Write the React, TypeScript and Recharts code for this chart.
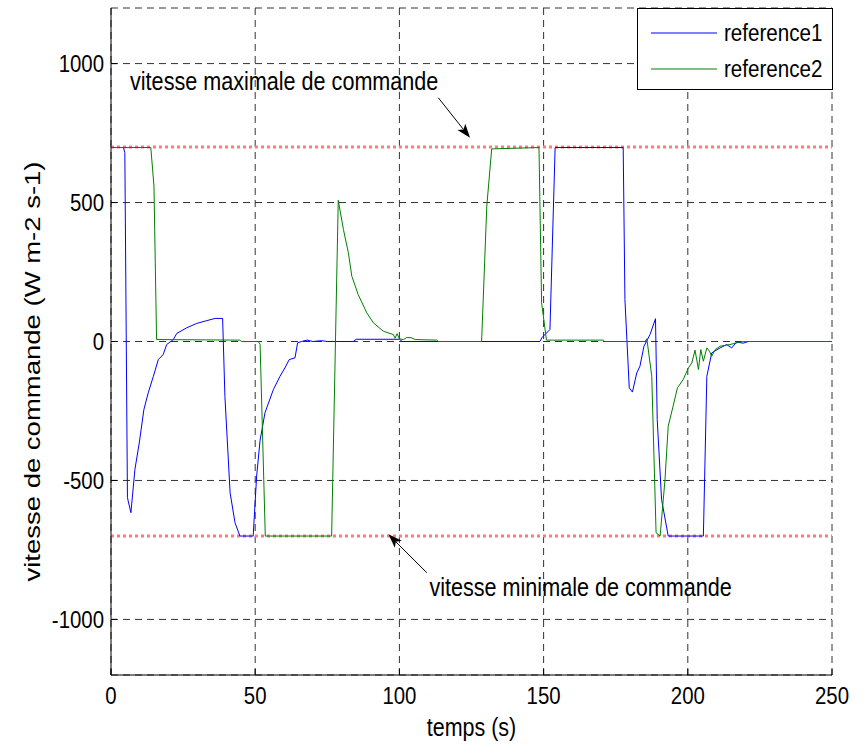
import React from 'react';
import {
  LineChart, Line, XAxis, YAxis, CartesianGrid, ReferenceLine, ReferenceDot, Legend, Label,
} from 'recharts';

// ---- data ----
const seriesNames = ['reference1', 'reference2'];
const seriesColors = ['#0000ff', '#008000'];

const t1 = [0, 4.3, 4.8, 5.7, 6.9, 8.3, 9.8, 11.4, 12.9, 14.7, 16.4, 18.1, 19.3, 21.6, 22.8, 26.2, 29.7, 33.2, 36.1, 38.7,
  39.5, 41.3, 43.0, 44.7, 49.3, 50.5, 51.7, 53.4, 56.3, 58.6, 60.3, 61.8, 63.8, 64.7, 66, 68, 70, 73, 75, 84, 85, 100, 101,
  148.7, 149.5, 152.2, 154, 177.6, 178.2, 179.7, 180.8, 182.3, 183.4, 184.8, 186.9, 188.8, 189.4, 190.9, 193.2, 205.4,
  206.6, 208.3, 211.2, 213.5, 215.2, 216.9, 219.2, 221, 250];
const v1 = [698, 698, 680, -562, -616, -460, -365, -245, -185, -125, -65, -47, -11, 7, 29, 49, 65, 75, 83, 83,
  -197, -544, -652, -700, -700, -484, -355, -256, -173, -125, -95, -65, -59, -5, 0, 5, 0, 3, 0, 0, 8, 8, 0,
  0, 15, 43, 698, 698, 151, -167, -182, -113, -89, -17, 25, 82, -281, -568, -700, -700,
  -125, -41, -23, -11, -23, -2, -6, 0, 0];

const t2 = [0, 13.8, 14.9, 15.8, 44.7, 45.2, 51.1, 51.7, 53.5, 76.5, 78.8, 80.6, 82.3, 83.5, 85.7, 88.7, 91, 94.4, 97.9,
  98.5, 99.2, 100, 101.4, 102.5, 104, 105.5, 112.9, 113.5, 128.5, 130.3, 132, 148.4, 149.3, 151, 170.7, 171.2, 185.2,
  185.8, 187.5, 189, 190.4, 192.1, 193.2, 194.9, 196.4, 198.4, 200.2, 201.4, 202.5, 203.7, 204.5, 205.4, 206.6, 207.5,
  208.3, 209.5, 211.2, 214.6, 218.1, 220, 250];
const v2 = [698, 698, 559, 7, 5, 0, 0, -10, -700, -700, 508, 403, 319, 235, 169, 103, 67, 37, 25,
  12, 28, 10, 7, 14, 14, 7, 5, 0, 0, 487, 693, 698, 139, 5, 5, 0, 0,
  10, -125, -688, -700, -496, -305, -233, -167, -137, -95, -77, -31, -101, -29, -71, -23, -35,
  -53, -29, -17, -11, -2, 0, 0];

const xTicks = [0, 50, 100, 150, 200, 250];
const yTicks = [-1000, -500, 0, 500, 1000];
const limits = [700, -700];
const xLabel = 'temps (s)';
const yLabel = 'vitesse de commande (W m-2 s-1)';
const annotations = [
  { text: 'vitesse maximale de commande', tx: 6.6, ty: 906, ax1: 113.5, ay1: 877, ax2: 124.5, ay2: 733 },
  { text: 'vitesse minimale de commande', tx: 110.4, ty: -914, ax1: 109.5, ay1: -832, ax2: 96.2, ay2: -694 },
];

const data1 = t1.map((t, i) => ({ t, v: v1[i] }));
const data2 = t2.map((t, i) => ({ t, v: v2[i] }));
const seriesData = [data1, data2];

const FONT = '"Liberation Sans", Arial, sans-serif';
const SY = 1.2; // vertical stretch of the glyphs in the reference

const XTick = (p: any) => {
  const { x, y, payload } = p;
  return (
    <text transform={`translate(${x},${y}) scale(1,${SY})`} textAnchor="middle" dy="0.72em"
      fontFamily={FONT} fontSize={20.4} fill="#000">{payload.value}</text>
  );
};
const YTick = (p: any) => {
  const { x, y, payload } = p;
  return (
    <text transform={`translate(${x},${y}) scale(1,${SY})`} textAnchor="end" dy="0.36em"
      fontFamily={FONT} fontSize={20.4} fill="#000">{payload.value}</text>
  );
};

const Arrow = (p: any) => {
  const { x1, y1, x2, y2 } = p;
  const dx = x2 - x1, dy = y2 - y1;
  const len = Math.sqrt(dx * dx + dy * dy) || 1;
  const ux = dx / len, uy = dy / len;
  const hl = 14, hw = 5;
  const bx = x2 - ux * hl, by = y2 - uy * hl;
  const nx = -uy, ny = ux;
  const notchX = x2 - ux * hl * 0.75, notchY = y2 - uy * hl * 0.75;
  return (
    <g>
      <line x1={x1} y1={y1} x2={notchX} y2={notchY} stroke="#000" strokeWidth={1} />
      <polygon
        points={`${x2},${y2} ${bx + nx * hw},${by + ny * hw} ${notchX},${notchY} ${bx - nx * hw},${by - ny * hw}`}
        fill="#000"
      />
    </g>
  );
};

const LegendBox = () => (
  <div style={{ width: 196, height: 82, boxSizing: 'border-box', border: '1px solid #000', background: '#fff', position: 'relative' }}>
    {seriesNames.map((name, i) => (
      <div key={name} style={{ position: 'absolute', left: 0, top: i === 0 ? 6 : 42, height: 36, width: 194 }}>
        <svg width={80} height={36} style={{ position: 'absolute', left: 13, top: 0 }}>
          <line x1={0} y1={18} x2={66} y2={18} stroke={seriesColors[i]} strokeWidth={1} />
        </svg>
        <span style={{
          position: 'absolute', left: 86, top: 3, fontFamily: FONT, fontSize: 20.6, lineHeight: '30px', color: '#000',
          transform: `scale(1,${SY})`, transformOrigin: '0 50%', whiteSpace: 'nowrap',
        }}>{name}</span>
      </div>
    ))}
  </div>
);

export default function App() {
  return (
    <div style={{ position: 'absolute', left: 0, top: 0, background: '#fff' }}>
      <LineChart width={863} height={744} margin={{ top: 8, right: 31, bottom: 0, left: 0 }}>
        <CartesianGrid stroke="#333" strokeDasharray="7 5" />
        <XAxis dataKey="t" type="number" domain={[0, 250]} ticks={xTicks} height={69} allowDataOverflow
          tickSize={-6} tickMargin={17} axisLine={{ stroke: '#000' }} tickLine={{ stroke: '#000' }}
          tick={<XTick />}>
          <Label content={(props: any) => {
            const vb = props.viewBox;
            const cx = vb.x + vb.width / 2, cy = vb.y + 61;
            return <text transform={`translate(${cx},${cy}) scale(1,${SY})`} textAnchor="middle" fontFamily={FONT} fontSize={21.5} fill="#000">{xLabel}</text>;
          }} />
        </XAxis>
        <XAxis xAxisId="top" orientation="top" type="number" domain={[0, 250]} ticks={xTicks} height={0} allowDataOverflow
          tickSize={-6} tickFormatter={() => ''} axisLine={{ stroke: '#000' }} tickLine={{ stroke: '#000' }} />
        <YAxis type="number" domain={[-1200, 1200]} ticks={yTicks} width={111} allowDataOverflow
          tickSize={-6} tickMargin={13} axisLine={{ stroke: '#000' }} tickLine={{ stroke: '#000' }}
          tick={<YTick />}>
          <Label content={(props: any) => {
            const vb = props.viewBox;
            const cx = vb.x + 40, cy = vb.y + vb.height / 2 + 30;
            return <text transform={`translate(${cx},${cy}) rotate(-90) scale(1.25,1)`} textAnchor="middle" fontFamily={FONT} fontSize={22} fill="#000">{yLabel}</text>;
          }} />
        </YAxis>
        <YAxis yAxisId="right" orientation="right" type="number" domain={[-1200, 1200]} ticks={yTicks} width={0} allowDataOverflow
          tickSize={-6} tickFormatter={() => ''} axisLine={{ stroke: '#000' }} tickLine={{ stroke: '#000' }} />
        {limits.map((y) => (
          <ReferenceLine key={y} y={y} stroke="#ff7b7b" strokeWidth={3} strokeDasharray="3 3" />
        ))}
        {seriesNames.map((name, i) => (
          <Line key={name} data={seriesData[i]} dataKey="v" name={name} type="linear" stroke={seriesColors[i]}
            strokeWidth={1} dot={false} isAnimationActive={false} />
        ))}
        {annotations.map((a) => (
          <ReferenceLine key={a.text + 'arrow'} segment={[{ x: a.ax1, y: a.ay1 }, { x: a.ax2, y: a.ay2 }]} shape={Arrow} />
        ))}
        {annotations.map((a) => (
          <ReferenceDot key={a.text} x={a.tx} y={a.ty} r={0} stroke="none" fill="none"
            label={{
              content: (props: any) => {
                const vb = props.viewBox;
                return <text transform={`translate(${vb.x},${vb.y}) scale(1,${SY})`} fontFamily={FONT} fontSize={21.6} fill="#000">{a.text}</text>;
              },
            }} />
        ))}
        <Legend layout="horizontal" verticalAlign="middle" align="center"
          wrapperStyle={{ position: 'absolute', left: 637, top: 8, width: 196, height: 82, margin: 0 }}
          content={() => <LegendBox />} />
      </LineChart>
    </div>
  );
}
